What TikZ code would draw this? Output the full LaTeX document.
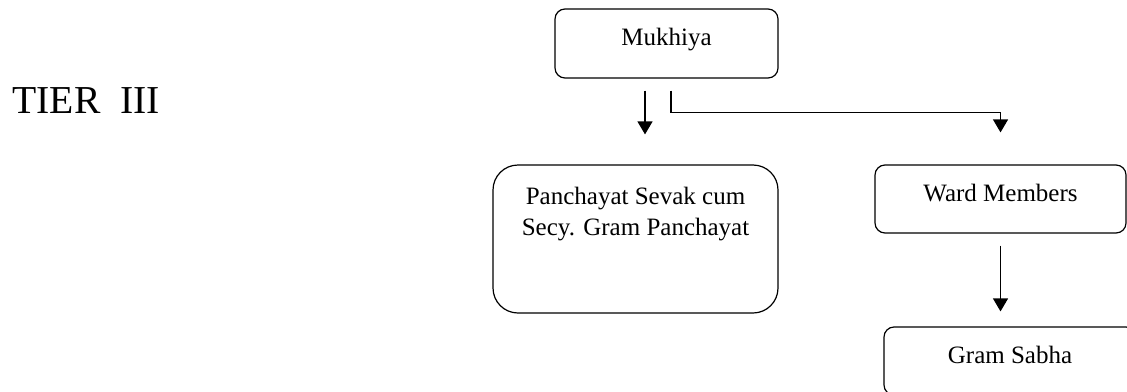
\documentclass[tikz,border=0pt]{standalone}
\usepackage{fontspec}
\setmainfont{Liberation Serif}
\usepackage{tikz}
\usetikzlibrary{arrows.meta,positioning}

\begin{document}
\begin{tikzpicture}[x=0.5pt,y=-0.5pt,line width=0.6pt,
                    >={Triangle[width=7.5pt,length=6.5pt]}]
    \tikzstyle{office}=[draw,rounded corners=5pt,inner sep=0pt,
                        font=\fontsize{12.5}{15.5}\selectfont,text height=8pt,text depth=6pt]

    \useasboundingbox (0,0) rectangle (1127,391);
    \clip (0,0) rectangle (1127,391);

    \node[anchor=base west,inner sep=0pt,font=\fontsize{19.8}{24}\selectfont] (tier) at (12,113) {TIER\ \ III};

    \node[office,minimum width=111.5pt,minimum height=34.5pt] (mukhiya) at (666.5,43.5) {Mukhiya};
    \node[office,rounded corners=12.5pt,minimum width=142.5pt,minimum height=74pt] (secy) at (635.5,239) {};
    \node[anchor=north,align=center,inner sep=0pt,font=\fontsize{12.5}{15.5}\selectfont] (secy_text) at ([yshift=-11pt]secy.north) {Panchayat Sevak cum\\Secy. Gram Panchayat};
    \node[office,minimum width=125.5pt,minimum height=34pt] (ward) at (1000.5,199) {Ward Members};
    \node[office,minimum width=126pt,minimum height=34pt] (sabha) at (1010,361) {Gram Sabha};

    % \draw (mukhiya) -- (secy);
    \draw[->,shorten <=6pt,shorten >=15pt] ([xshift=-10.75pt]mukhiya.south) -- ([xshift=-10.75pt]mukhiya.south |- secy.north);
    \draw[->,shorten >=16pt] ([xshift=2.25pt,yshift=-6pt]mukhiya.south) |- ([yshift=26pt]ward.north) -- (ward.north);
    \draw[->,shorten <=6pt,shorten >=7.5pt] (ward.south) -- (ward.south |- sabha.north);

\end{tikzpicture}
\end{document}
